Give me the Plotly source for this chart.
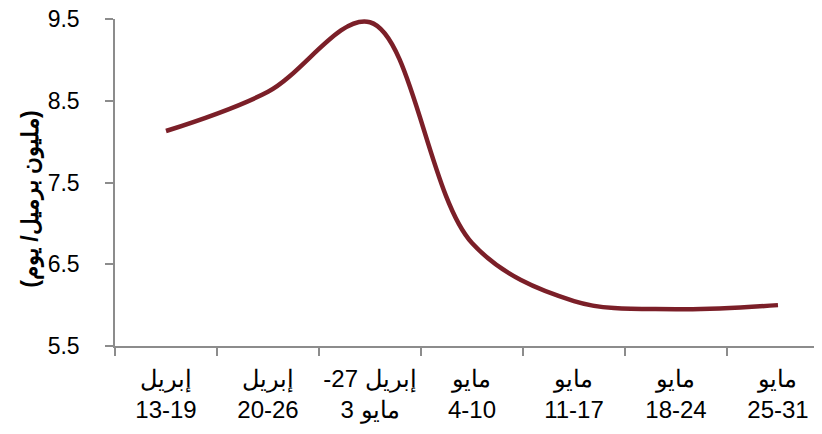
import plotly.graph_objects as go

LRE, PDF = "\u202a", "\u202c"  # keep the visual order of mixed Arabic/number lines

# weekly periods (April - May)
weeks = [
    "إبريل<br>13-19",
    "إبريل<br>20-26",
    LRE + "-27 إبريل" + PDF + "<br>" + LRE + "3 مايو" + PDF,
    "مايو<br>4-10",
    "مايو<br>11-17",
    "مايو<br>18-24",
    "مايو<br>25-31",
]
values = [8.13, 8.61, 9.46, 6.76, 6.05, 5.95, 6.0]
y_ticks = [5.5, 6.5, 7.5, 8.5, 9.5]

fig = go.Figure()
fig.add_trace(
    go.Scatter(
        x=weeks,
        y=values,
        mode="lines",
        line=dict(color="#7b1f28", width=4.5, shape="spline", smoothing=1.0),
    )
)

axis_col = "#8c8c8c"
# page body adds an 8px offset, margins compensate for it
fig.update_layout(
    width=822,
    height=434,
    margin=dict(l=107, r=0, t=11, b=96),
    paper_bgcolor="white",
    plot_bgcolor="white",
    showlegend=False,
    font=dict(family="Liberation Sans, Arial", color="black"),
    xaxis=dict(
        type="category",
        range=[-0.5, 6.51],
        showline=True,
        linecolor=axis_col,
        linewidth=1.5,
        ticks="outside",
        tickson="boundaries",
        ticklen=8,
        tickcolor=axis_col,
        tickwidth=1.5,
        showgrid=False,
        tickangle=0,
        automargin=False,
        tickfont=dict(size=24),
        ticklabelstandoff=10,
    ),
    yaxis=dict(
        range=[5.5, 9.5],
        tickvals=y_ticks,
        ticktext=[f"{v:.1f}" for v in y_ticks],
        showline=True,
        linecolor=axis_col,
        linewidth=1.5,
        ticks="outside",
        ticklen=8,
        tickcolor=axis_col,
        tickwidth=1.5,
        showgrid=False,
        zeroline=False,
        automargin=False,
        tickfont=dict(size=23),
        ticklabelstandoff=21,
        ticklabeloverflow="allow",
    ),
    annotations=[
        dict(
            text="<b>(مليون برميل/ يوم)</b>",
            textangle=-90,
            xref="paper",
            yref="paper",
            x=-0.1175,
            y=0.45,
            xanchor="center",
            yanchor="middle",
            showarrow=False,
            font=dict(size=23, color="black"),
        )
    ],
)

fig.write_html("out.html")
